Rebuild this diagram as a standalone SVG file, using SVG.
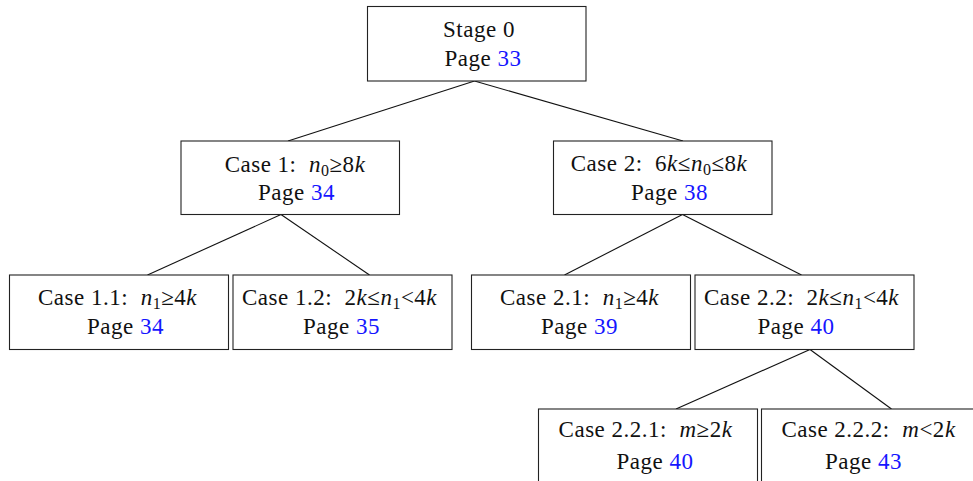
<svg xmlns="http://www.w3.org/2000/svg" width="973" height="481" viewBox="0 0 973 481">
<style>
  .box { fill: #ffffff; stroke: #222222; stroke-width: 1.1; }
  .edge { stroke: #111111; stroke-width: 1.1; fill: none; }
  .lbl { font-family: "Liberation Serif", "Times New Roman", serif; font-size: 23px; fill: #111111; text-anchor: middle; letter-spacing: 0.5px; }
  .i { font-style: italic; }
  .s { font-size: 16px; }
  .pg { fill: #1515ff; }
</style>
<rect width="973" height="481" fill="#ffffff"/>
<g id="connectors">
  <line class="edge" x1="474.5" y1="81" x2="288" y2="141"/>
  <line class="edge" x1="474.5" y1="81" x2="683" y2="141"/>
  <line class="edge" x1="281" y1="214.5" x2="147.5" y2="275"/>
  <line class="edge" x1="281" y1="214.5" x2="369.5" y2="275"/>
  <line class="edge" x1="682.5" y1="214.5" x2="564.5" y2="275"/>
  <line class="edge" x1="682.5" y1="214.5" x2="801.5" y2="275"/>
  <line class="edge" x1="810" y1="349.5" x2="676" y2="409"/>
  <line class="edge" x1="810" y1="349.5" x2="891.5" y2="409"/>
</g>
<g id="stage0">
  <rect class="box" x="367.5" y="6.5" width="218.5" height="74.5"/>
  <text class="lbl" font-family="Liberation Serif" x="479" y="37">Stage 0</text>
  <text class="lbl" font-family="Liberation Serif" x="483" y="66">Page <tspan class="pg">33</tspan></text>
</g>
<g id="case1">
  <rect class="box" x="181" y="141" width="218.5" height="73.5"/>
  <text class="lbl" font-family="Liberation Serif" x="295" y="171.5">Case 1:&#160; <tspan class="i">n</tspan><tspan class="s" dy="4">0</tspan><tspan dy="-4">≥8</tspan><tspan class="i">k</tspan></text>
  <text class="lbl" font-family="Liberation Serif" x="296.5" y="199.5">Page <tspan class="pg">34</tspan></text>
</g>
<g id="case2">
  <rect class="box" x="553.5" y="141" width="218.5" height="73.5"/>
  <text class="lbl" font-family="Liberation Serif" x="659" y="170.5">Case 2:&#160; 6<tspan class="i">k</tspan>≤<tspan class="i">n</tspan><tspan class="s" dy="4">0</tspan><tspan dy="-4">≤8</tspan><tspan class="i">k</tspan></text>
  <text class="lbl" font-family="Liberation Serif" x="669.5" y="199.5">Page <tspan class="pg">38</tspan></text>
</g>
<g id="case1_1">
  <rect class="box" x="9.5" y="275" width="219" height="74.5"/>
  <text class="lbl" font-family="Liberation Serif" x="117.5" y="305">Case 1.1:&#160; <tspan class="i">n</tspan><tspan class="s" dy="4">1</tspan><tspan dy="-4">≥4</tspan><tspan class="i">k</tspan></text>
  <text class="lbl" font-family="Liberation Serif" x="125.5" y="333.5">Page <tspan class="pg">34</tspan></text>
</g>
<g id="case1_2">
  <rect class="box" x="233" y="275" width="219" height="74.5"/>
  <text class="lbl" font-family="Liberation Serif" x="339.5" y="305">Case 1.2:&#160; 2<tspan class="i">k</tspan>≤<tspan class="i">n</tspan><tspan class="s" dy="4">1</tspan><tspan dy="-4">&lt;4</tspan><tspan class="i">k</tspan></text>
  <text class="lbl" font-family="Liberation Serif" x="341.5" y="333.5">Page <tspan class="pg">35</tspan></text>
</g>
<g id="case2_1">
  <rect class="box" x="471.5" y="275" width="219" height="74.5"/>
  <text class="lbl" font-family="Liberation Serif" x="579.5" y="305">Case 2.1:&#160; <tspan class="i">n</tspan><tspan class="s" dy="4">1</tspan><tspan dy="-4">≥4</tspan><tspan class="i">k</tspan></text>
  <text class="lbl" font-family="Liberation Serif" x="579.5" y="333.5">Page <tspan class="pg">39</tspan></text>
</g>
<g id="case2_2">
  <rect class="box" x="695" y="275" width="219" height="74.5"/>
  <text class="lbl" font-family="Liberation Serif" x="801.5" y="305">Case 2.2:&#160; 2<tspan class="i">k</tspan>≤<tspan class="i">n</tspan><tspan class="s" dy="4">1</tspan><tspan dy="-4">&lt;4</tspan><tspan class="i">k</tspan></text>
  <text class="lbl" font-family="Liberation Serif" x="796" y="333.5">Page <tspan class="pg">40</tspan></text>
</g>
<g id="case2_2_1">
  <rect class="box" x="538.5" y="409" width="219" height="80"/>
  <text class="lbl" font-family="Liberation Serif" x="645.5" y="437">Case 2.2.1:&#160; <tspan class="i">m</tspan>≥2<tspan class="i">k</tspan></text>
  <text class="lbl" font-family="Liberation Serif" x="655" y="468.5">Page <tspan class="pg">40</tspan></text>
</g>
<g id="case2_2_2">
  <rect class="box" x="761.5" y="409" width="219" height="80"/>
  <text class="lbl" font-family="Liberation Serif" x="868.5" y="437">Case 2.2.2:&#160; <tspan class="i">m</tspan>&lt;2<tspan class="i">k</tspan></text>
  <text class="lbl" font-family="Liberation Serif" x="863.5" y="468.5">Page <tspan class="pg">43</tspan></text>
</g>
</svg>
